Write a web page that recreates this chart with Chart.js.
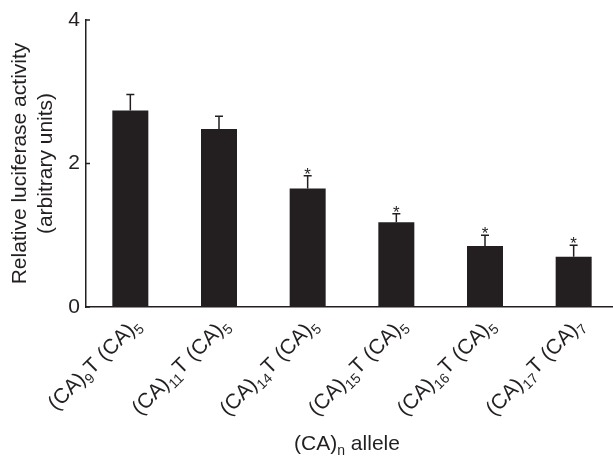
<!DOCTYPE html>
<html>
<head>
<meta charset="utf-8">
<script src="https://cdn.jsdelivr.net/npm/chart.js@4.4.0/dist/chart.umd.min.js"></script>
<style>
  html, body { margin: 0; padding: 0; background: #fff; overflow: hidden; }
  canvas { display: block; }
</style>
</head>
<body>
<canvas id="chart" width="618" height="456"></canvas>
<script>
const repeatCounts = [9, 11, 14, 15, 16, 17]
const tailCounts = [5, 5, 5, 5, 5, 7]
const activity = [2.74, 2.48, 1.65, 1.18, 0.85, 0.70]
const activityErr = [0.22, 0.18, 0.18, 0.12, 0.15, 0.16]
const significant = [false, false, true, true, true, true]
const yTickValues = [0, 2, 4]

const ink = '#231f20'
const fontFamily = '"Liberation Sans", Arial, Helvetica, sans-serif'

const labels = repeatCounts.map((n, i) => `(CA)${n}T (CA)${tailCounts[i]}`)

// draws text pieces (some subscripts) ending at x=0, or centred on it
function drawRich(ctx, parts, align, mainSize, subSize) {
    let widths = parts.map(p => {
        ctx.font = (p.sub ? subSize : mainSize) + 'px ' + fontFamily
        return ctx.measureText(p.t).width
    })
    let total = widths.reduce((a, b) => a + b, 0)
    let x = align === 'center' ? -total / 2 : -total
    ctx.textAlign = 'left'
    ctx.textBaseline = 'alphabetic'
    parts.forEach((p, i) => {
        ctx.font = (p.sub ? subSize : mainSize) + 'px ' + fontFamily
        ctx.fillText(p.t, x, p.sub ? mainSize * 0.25 : 0)
        x += widths[i]
    })
}

const extrasPlugin = {
    id: 'extras',
    afterDatasetsDraw(chart) {
        const ctx = chart.ctx
        const meta = chart.getDatasetMeta(0)
        const yScale = chart.scales.y
        ctx.save()
        ctx.strokeStyle = ink
        ctx.fillStyle = ink
        ctx.lineWidth = 1.5
        meta.data.forEach((bar, i) => {
            const top = yScale.getPixelForValue(activity[i] + activityErr[i])
            ctx.beginPath()
            ctx.moveTo(bar.x, bar.y)
            ctx.lineTo(bar.x, top)
            ctx.moveTo(bar.x - 4, top)
            ctx.lineTo(bar.x + 4, top)
            ctx.stroke()
            if (significant[i]) {
                ctx.font = '17px ' + fontFamily
                ctx.textAlign = 'center'
                ctx.textBaseline = 'alphabetic'
                ctx.fillText('*', bar.x, top + 4)
            }
        })
        ctx.restore()
    },
    afterDraw(chart) {
        const ctx = chart.ctx
        const xScale = chart.scales.x
        const yScale = chart.scales.y
        ctx.save()
        ctx.fillStyle = ink
        ctx.strokeStyle = ink
        ctx.lineWidth = 1.5

        // inner tick marks on the y axis
        yTickValues.forEach(v => {
            const py = yScale.getPixelForValue(v)
            ctx.beginPath()
            ctx.moveTo(yScale.right, py)
            ctx.lineTo(yScale.right + 4, py)
            ctx.stroke()
        })

        // rotated category labels with subscripts
        labels.forEach((lab, i) => {
            const px = xScale.getPixelForValue(i)
            ctx.save()
            ctx.translate(px + 11, 326)
            ctx.rotate(-Math.PI / 4)
            drawRich(ctx, [
                {t: '(CA)'}, {t: String(repeatCounts[i]), sub: true},
                {t: 'T (CA)'}, {t: String(tailCounts[i]), sub: true}
            ], 'right', 21, 14)
            ctx.restore()
        })

        // x axis title
        ctx.save()
        ctx.translate(347, 450)
        drawRich(ctx, [{t: '(CA)'}, {t: 'n', sub: true}, {t: ' allele'}], 'center', 21, 14)
        ctx.restore()

        ctx.restore()
    }
}

new Chart(document.getElementById('chart'), {
    type: 'bar',
    data: {
        labels: labels,
        datasets: [{
            data: activity,
            backgroundColor: ink,
            borderWidth: 0,
            categoryPercentage: 1,
            barPercentage: 0.406,
        }]
    },
    options: {
        responsive: false,
        animation: false,
        devicePixelRatio: 1,
        layout: { padding: { top: 20, left: 0, right: 0, bottom: 0 } },
        plugins: { legend: { display: false }, tooltip: { enabled: false } },
        scales: {
            x: {
                ticks: { display: false },
                grid: { display: false, drawTicks: false },
                border: { color: ink, width: 1.5 },
                afterFit: s => { s.height = 149 },
            },
            y: {
                min: 0,
                max: 4,
                afterBuildTicks: s => { s.ticks = yTickValues.map(v => ({value: v})) },
                afterFit: s => { s.width = 86 },
                ticks: { color: ink, padding: 6, font: { family: fontFamily, size: 21 } },
                grid: { display: false, drawTicks: false },
                border: { color: ink, width: 1.5 },
                title: {
                    display: true,
                    text: ['Relative luciferase activity', '(arbitrary units)'],
                    color: ink,
                    font: { family: fontFamily, size: 21, lineHeight: 1.25 },
                    padding: { top: 7, bottom: 0 },
                },
            },
        },
    },
    plugins: [extrasPlugin],
})
</script>
</body>
</html>
